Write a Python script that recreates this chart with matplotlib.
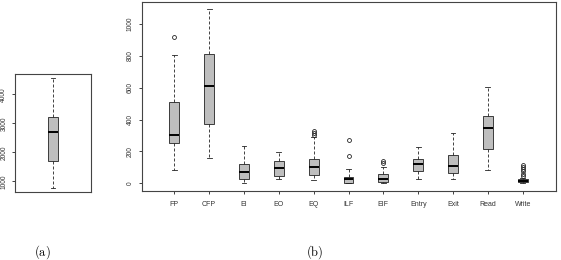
import matplotlib
matplotlib.use("Agg")
import matplotlib.pyplot as plt

plt.rcParams['font.family'] = ['Liberation Sans', 'DejaVu Sans']
plt.rcParams['mathtext.fontset'] = 'cm'

# Panel (a): single box
a_whislo = 780
a_q1 = 1690
a_med = 2700
a_q3 = 3200
a_whishi = 4550
a_yticks = [1000, 2000, 3000, 4000]

# Panel (b)
categories = ["FP", "CFP", "EI", "EO", "EQ", "ILF", "EIF", "Entry", "Exit", "Read", "Write"]
whislo = [87, 162, 2, 27, 19, 0, 4, 29, 25, 87, 2]
q1 = [250, 369, 27, 48, 56, 3, 10, 81, 66, 214, 8]
med = [302, 608, 73, 96, 104, 27, 31, 121, 110, 350, 16]
q3 = [510, 812, 121, 141, 150, 41, 58, 150, 177, 423, 25]
whishi = [802, 1089, 235, 198, 291, 89, 100, 227, 314, 606, 37]
fliers = [[916], [], [], [], [300, 315, 325], [172, 271], [128, 142], [], [], [], [48, 62, 76, 90, 104, 118]]
b_yticks = [0, 200, 400, 600, 800, 1000]

W, H = 561, 260
fig = plt.figure(figsize=(W / 100, H / 100), dpi=100)

frame_col = '#444444'
box_fill = '#bebebe'

def style(ax):
    for s in ax.spines.values():
        s.set_color(frame_col)
        s.set_linewidth(0.8)
    ax.tick_params(axis='both', length=2.5, width=0.6, color='#222222', pad=3,
                   labelcolor='#333333')

def draw(ax, stats, positions, width):
    ax.bxp(stats, positions=positions, widths=width, capwidths=width * 0.5,
           patch_artist=True, showfliers=True,
           boxprops=dict(facecolor=box_fill, edgecolor='#222222', linewidth=0.6),
           whiskerprops=dict(color='#222222', linewidth=0.6, linestyle=(0, (3.6, 2.4))),
           capprops=dict(color='#222222', linewidth=0.6),
           medianprops=dict(color='black', linewidth=1.4),
           flierprops=dict(marker='o', markersize=2.8, markerfacecolor='none',
                           markeredgecolor='#222222', markeredgewidth=0.6, linestyle='none'))

# (a)
axa = fig.add_axes([15 / W, 1 - 192 / H, 76 / W, 118 / H])
stats_a = [dict(whislo=a_whislo, q1=a_q1, med=a_med, q3=a_q3, whishi=a_whishi, fliers=[])]
draw(axa, stats_a, [1], 0.13)
axa.set_xlim(0.46, 1.54)
axa.set_ylim(630, 4700)
axa.set_xticks([])
axa.set_yticks(a_yticks)
style(axa)
axa.set_yticklabels([str(t) for t in a_yticks], rotation=90, va='center', fontsize=4.8)

# (b)
axb = fig.add_axes([141.5 / W, 1 - 190.5 / H, 414 / W, 188.2 / H])
stats_b = [dict(whislo=whislo[i], q1=q1[i], med=med[i], q3=q3[i], whishi=whishi[i],
                fliers=fliers[i], label=categories[i]) for i in range(len(categories))]
pos = list(range(1, len(categories) + 1))
draw(axb, stats_b, pos, 0.28)
axb.set_xlim(0.06, 11.94)
axb.set_ylim(-44, 1133)
axb.set_xticks(pos)
axb.set_yticks(b_yticks)
style(axb)
axb.set_xticklabels(categories, fontsize=5)
axb.set_yticklabels([str(t) for t in b_yticks], rotation=90, va='center', fontsize=4.8)
axb.tick_params(axis='x', pad=5)

fig.text(42.7 / W, 1 - 251.7 / H, r'$\mathrm{(a)}$', ha='center', va='center', fontsize=9)
fig.text(314.3 / W, 1 - 251.7 / H, r'$\mathrm{(b)}$', ha='center', va='center', fontsize=9)

fig.savefig('out.png', dpi=100)
